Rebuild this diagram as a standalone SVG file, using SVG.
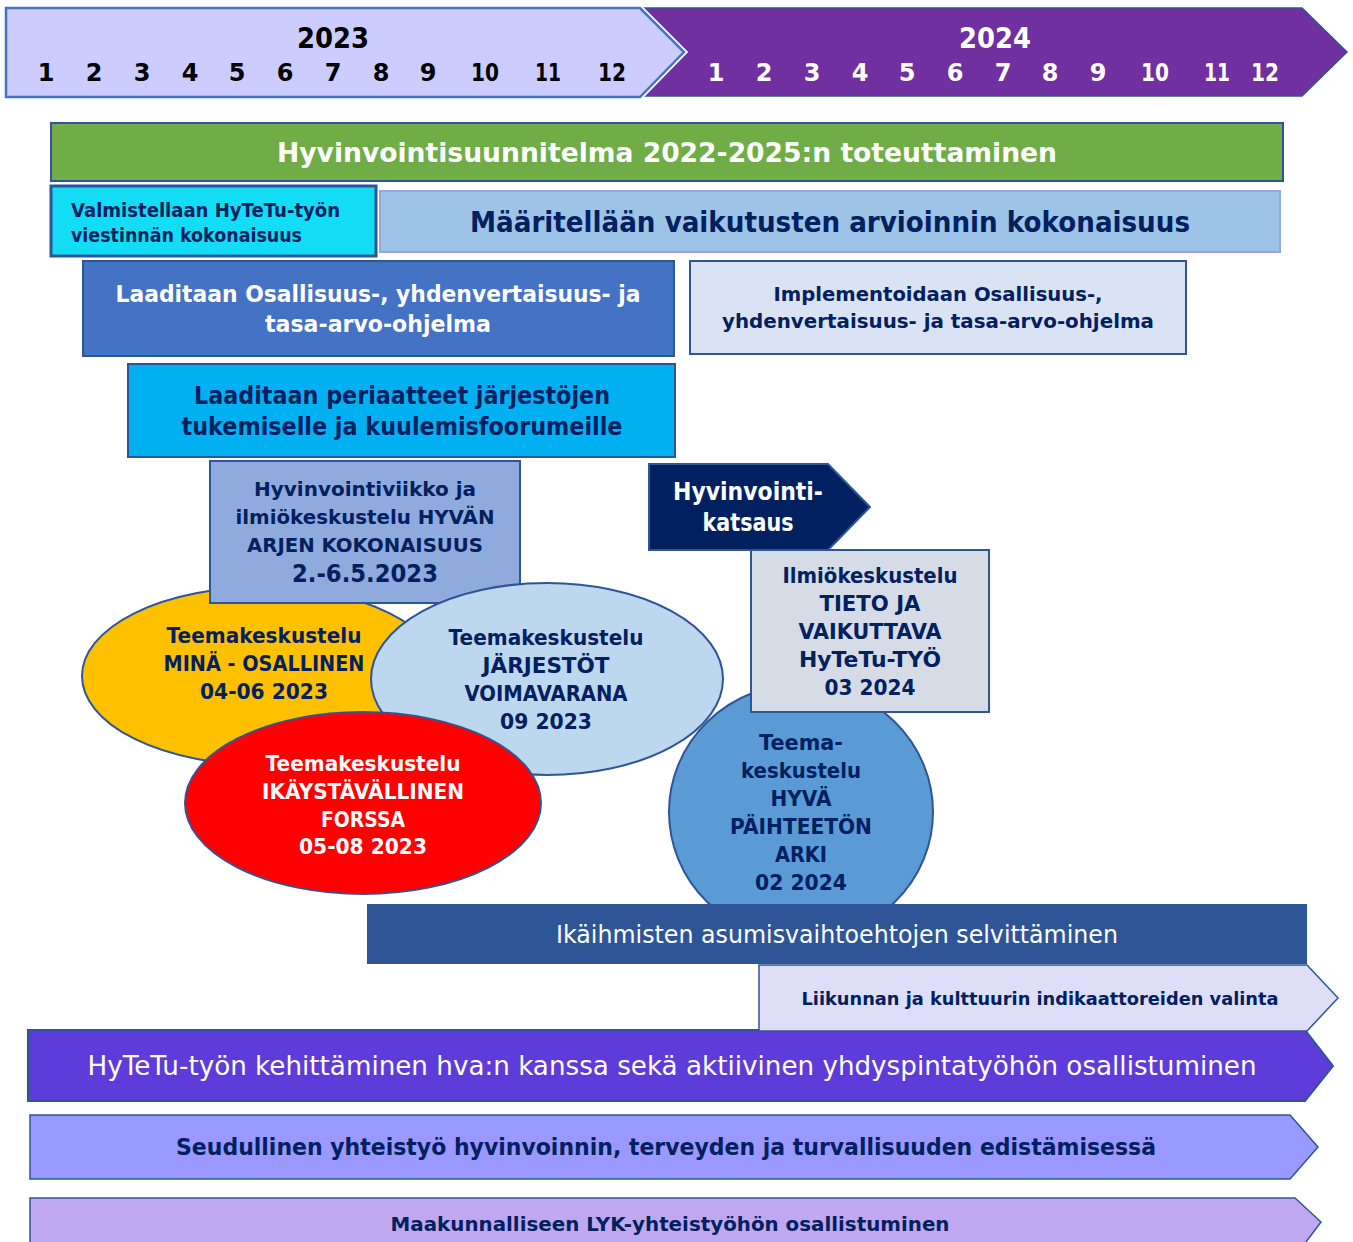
<svg xmlns="http://www.w3.org/2000/svg" width="1353" height="1242" viewBox="0 0 1353 1242">
<style>
text{font-family:"DejaVu Sans","Liberation Sans",sans-serif;font-weight:bold;text-anchor:middle}
.n{fill:#002060}
.w{fill:#ffffff}
.k{fill:#000000}
.reg{font-weight:normal}
.s{stroke:#2F5597;stroke-width:2}
</style>
<rect width="1353" height="1242" fill="#ffffff"/>
<g id="header2024">
<polygon points="643,8 1302,8 1347,52 1302,96 643,96 687,52" fill="#7030A0" stroke="#2F5597" stroke-width="1.5"/>
<text class="w" x="995" y="48" font-size="28" textLength="72" lengthAdjust="spacingAndGlyphs">2024</text>
<g font-size="24" class="w">
<text class="w" x="716" y="81">1</text><text class="w" x="764" y="81">2</text><text class="w" x="812" y="81">3</text><text class="w" x="860" y="81">4</text><text class="w" x="907" y="81">5</text><text class="w" x="955" y="81">6</text><text class="w" x="1003" y="81">7</text><text class="w" x="1050" y="81">8</text><text class="w" x="1098" y="81">9</text><text class="w" x="1155" y="81" textLength="28" lengthAdjust="spacingAndGlyphs">10</text><text class="w" x="1217" y="81" textLength="26" lengthAdjust="spacingAndGlyphs">11</text><text class="w" x="1265" y="81" textLength="28" lengthAdjust="spacingAndGlyphs">12</text>
</g>
</g>
<g id="header2023">
<polygon points="6,8 640,8 684,52 640,97 6,97" fill="#CCCCFF" stroke="#ffffff" stroke-width="6"/>
<polygon points="6,8 640,8 684,52 640,97 6,97" fill="#CCCCFF" stroke="#4472C4" stroke-width="2.5"/>
<text class="k" x="333" y="48" font-size="28" textLength="72" lengthAdjust="spacingAndGlyphs">2023</text>
<g font-size="24">
<text class="k" x="46" y="81">1</text><text class="k" x="94" y="81">2</text><text class="k" x="142" y="81">3</text><text class="k" x="190" y="81">4</text><text class="k" x="237" y="81">5</text><text class="k" x="285" y="81">6</text><text class="k" x="333" y="81">7</text><text class="k" x="381" y="81">8</text><text class="k" x="428" y="81">9</text><text class="k" x="485" y="81" textLength="28" lengthAdjust="spacingAndGlyphs">10</text><text class="k" x="548" y="81" textLength="26" lengthAdjust="spacingAndGlyphs">11</text><text class="k" x="612" y="81" textLength="28" lengthAdjust="spacingAndGlyphs">12</text>
</g>
</g>
<g id="hyvinvointisuunnitelma">
<rect x="51" y="123" width="1232" height="58" fill="#70AD47" class="s"/>
<text class="w" x="667" y="162" font-size="27" textLength="780" lengthAdjust="spacingAndGlyphs">Hyvinvointisuunnitelma 2022-2025:n toteuttaminen</text>
</g>
<g id="valmistellaan">
<rect x="51" y="186" width="325" height="70" fill="#12DDF5" stroke="#2F5597" stroke-width="3"/>
<text class="n" x="71" y="217" font-size="19" style="text-anchor:start" textLength="269" lengthAdjust="spacingAndGlyphs">Valmistellaan HyTeTu-työn</text>
<text class="n" x="71" y="242" font-size="19" style="text-anchor:start" textLength="231" lengthAdjust="spacingAndGlyphs">viestinnän kokonaisuus</text>
</g>
<g id="maaritellaan">
<rect x="380" y="191" width="900" height="61" fill="#9DC3E6" stroke="#8FAADC" stroke-width="2"/>
<text class="n" x="830" y="232" font-size="29" textLength="720" lengthAdjust="spacingAndGlyphs">Määritellään vaikutusten arvioinnin kokonaisuus</text>
</g>
<g id="laaditaan-ohjelma">
<rect x="83" y="261" width="591" height="95" fill="#4472C4" class="s"/>
<text class="w" x="378" y="302" font-size="23" textLength="525" lengthAdjust="spacingAndGlyphs">Laaditaan Osallisuus-, yhdenvertaisuus- ja</text>
<text class="w" x="378" y="332" font-size="23" textLength="226" lengthAdjust="spacingAndGlyphs">tasa-arvo-ohjelma</text>
</g>
<g id="implementoidaan">
<rect x="690" y="261" width="496" height="93" fill="#DAE3F3" class="s"/>
<text class="n" x="938" y="301" font-size="20" textLength="329" lengthAdjust="spacingAndGlyphs">Implementoidaan Osallisuus-,</text>
<text class="n" x="938" y="328" font-size="20" textLength="432" lengthAdjust="spacingAndGlyphs">yhdenvertaisuus- ja tasa-arvo-ohjelma</text>
</g>
<g id="periaatteet">
<rect x="128" y="364" width="547" height="93" fill="#00B0F0" class="s"/>
<text class="n" x="402" y="404" font-size="24" textLength="416" lengthAdjust="spacingAndGlyphs">Laaditaan periaatteet järjestöjen</text>
<text class="n" x="402" y="435" font-size="24" textLength="441" lengthAdjust="spacingAndGlyphs">tukemiselle ja kuulemisfoorumeille</text>
</g>
<g id="teema-mina">
<ellipse cx="262" cy="676" rx="180" ry="89" fill="#FFC000" class="s"/>
<text class="n" x="264" y="643" font-size="21" textLength="195" lengthAdjust="spacingAndGlyphs">Teemakeskustelu</text>
<text class="n" x="264" y="671" font-size="21" textLength="201" lengthAdjust="spacingAndGlyphs">MINÄ - OSALLINEN</text>
<text class="n" x="264" y="699" font-size="21" textLength="128" lengthAdjust="spacingAndGlyphs">04-06 2023</text>
</g>
<g id="hyvinvointiviikko">
<rect x="210" y="461" width="310" height="142" fill="#8FAADC" class="s"/>
<text class="n" x="365" y="496" font-size="20" textLength="222" lengthAdjust="spacingAndGlyphs">Hyvinvointiviikko ja</text>
<text class="n" x="365" y="524" font-size="20" textLength="259" lengthAdjust="spacingAndGlyphs">ilmiökeskustelu HYVÄN</text>
<text class="n" x="365" y="552" font-size="20" textLength="236" lengthAdjust="spacingAndGlyphs">ARJEN KOKONAISUUS</text>
<text class="n" x="365" y="582" font-size="24" textLength="146" lengthAdjust="spacingAndGlyphs">2.-6.5.2023</text>
</g>
<g id="teema-paihteeton">
<ellipse cx="801" cy="812" rx="132" ry="128" fill="#5B9BD5" class="s"/>
<text class="n" x="801" y="750" font-size="21" textLength="84" lengthAdjust="spacingAndGlyphs">Teema-</text>
<text class="n" x="801" y="778" font-size="21" textLength="120" lengthAdjust="spacingAndGlyphs">keskustelu</text>
<text class="n" x="801" y="806" font-size="21" textLength="61" lengthAdjust="spacingAndGlyphs">HYVÄ</text>
<text class="n" x="801" y="834" font-size="21" textLength="142" lengthAdjust="spacingAndGlyphs">PÄIHTEETÖN</text>
<text class="n" x="801" y="862" font-size="21" textLength="52" lengthAdjust="spacingAndGlyphs">ARKI</text>
<text class="n" x="801" y="890" font-size="21" textLength="92" lengthAdjust="spacingAndGlyphs">02 2024</text>
</g>
<g id="teema-jarjestot">
<ellipse cx="547" cy="679" rx="176" ry="96" fill="#BDD7EE" class="s"/>
<text class="n" x="546" y="645" font-size="21" textLength="195" lengthAdjust="spacingAndGlyphs">Teemakeskustelu</text>
<text class="n" x="546" y="673" font-size="21" textLength="127" lengthAdjust="spacingAndGlyphs">JÄRJESTÖT</text>
<text class="n" x="546" y="701" font-size="21" textLength="163" lengthAdjust="spacingAndGlyphs">VOIMAVARANA</text>
<text class="n" x="546" y="729" font-size="21" textLength="92" lengthAdjust="spacingAndGlyphs">09 2023</text>
</g>
<g id="teema-ikaystavallinen">
<ellipse cx="363" cy="803" rx="178" ry="91" fill="#FF0000" class="s"/>
<text class="w" x="363" y="771" font-size="21" textLength="195" lengthAdjust="spacingAndGlyphs">Teemakeskustelu</text>
<text class="w" x="363" y="799" font-size="21" textLength="202" lengthAdjust="spacingAndGlyphs">IKÄYSTÄVÄLLINEN</text>
<text class="w" x="363" y="827" font-size="21" textLength="84" lengthAdjust="spacingAndGlyphs">FORSSA</text>
<text class="w" x="363" y="854" font-size="21" textLength="128" lengthAdjust="spacingAndGlyphs">05-08 2023</text>
</g>
<g id="hyvinvointikatsaus">
<polygon points="649,464 828,464 870,507 828,550 649,550" fill="#002060" class="s"/>
<text class="w" x="748" y="500" font-size="24" textLength="150" lengthAdjust="spacingAndGlyphs">Hyvinvointi-</text>
<text class="w" x="748" y="531" font-size="24" textLength="91" lengthAdjust="spacingAndGlyphs">katsaus</text>
</g>
<g id="ilmiokeskustelu-tieto">
<rect x="751" y="550" width="238" height="162" fill="#D6DCE5" class="s"/>
<text class="n" x="870" y="583" font-size="21" textLength="175" lengthAdjust="spacingAndGlyphs">Ilmiökeskustelu</text>
<text class="n" x="870" y="611" font-size="21" textLength="101" lengthAdjust="spacingAndGlyphs">TIETO JA</text>
<text class="n" x="870" y="639" font-size="21" textLength="143" lengthAdjust="spacingAndGlyphs">VAIKUTTAVA</text>
<text class="n" x="870" y="667" font-size="21" textLength="142" lengthAdjust="spacingAndGlyphs">HyTeTu-TYÖ</text>
<text class="n" x="870" y="695" font-size="21" textLength="91" lengthAdjust="spacingAndGlyphs">03 2024</text>
</g>
<g id="ikaihmisten">
<rect x="367" y="904" width="940" height="60" fill="#2F5597"/>
<text class="w reg" x="837" y="943" font-size="24" textLength="562" lengthAdjust="spacingAndGlyphs">Ikäihmisten asumisvaihtoehtojen selvittäminen</text>
</g>
<g id="hytetu-kehittaminen">
<polygon points="28,1030 1305,1030 1333,1066 1305,1101 28,1101" fill="#5E3CD9" class="s"/>
<text class="w reg" x="672" y="1075" font-size="26" textLength="1169" lengthAdjust="spacingAndGlyphs">HyTeTu-työn kehittäminen hva:n kanssa sekä aktiivinen yhdyspintatyöhön osallistuminen</text>
</g>
<g id="liikunnan">
<polygon points="759,965 1307,965 1338,998 1307,1031 759,1031" fill="#DEDEF9" stroke="#2F5597" stroke-width="1.5"/>
<text class="n" x="1040" y="1005" font-size="18" textLength="477" lengthAdjust="spacingAndGlyphs">Liikunnan ja kulttuurin indikaattoreiden valinta</text>
</g>
<g id="seudullinen">
<polygon points="30,1115 1290,1115 1318,1147 1290,1179 30,1179" fill="#9999FF" stroke="#2F5597" stroke-width="1.5"/>
<text class="n" x="666" y="1155" font-size="23" textLength="980" lengthAdjust="spacingAndGlyphs">Seudullinen yhteistyö hyvinvoinnin, terveyden ja turvallisuuden edistämisessä</text>
</g>
<g id="maakunnalliseen">
<polygon points="30,1198 1295,1198 1321,1222 1300,1250 30,1250" fill="#C0A8F0" stroke="#2F5597" stroke-width="1.5"/>
<text class="n" x="670" y="1231" font-size="20" textLength="559" lengthAdjust="spacingAndGlyphs">Maakunnalliseen LYK-yhteistyöhön osallistuminen</text>
</g>
</svg>
